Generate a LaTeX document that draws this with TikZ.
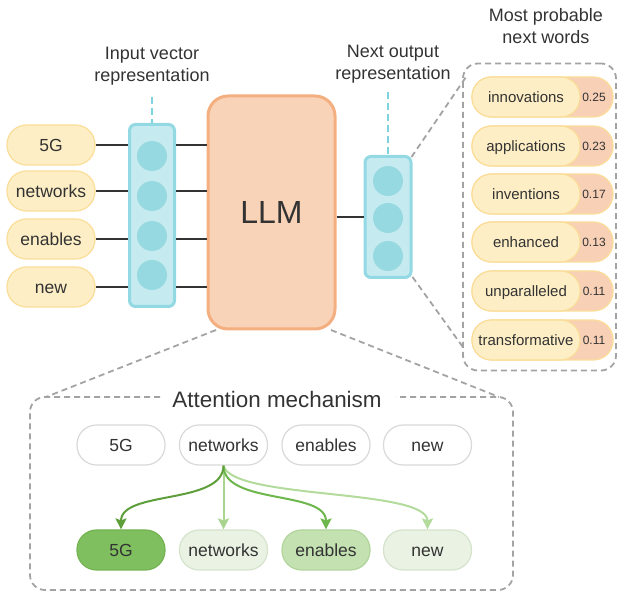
\documentclass[tikz,border=0pt]{standalone}
\usepackage{fontspec}
\setmainfont{Liberation Sans}
\usetikzlibrary{arrows.meta}
\definecolor{txtc}{HTML}{333333}
\definecolor{yelfill}{HTML}{FDEEC5}
\definecolor{yelline}{HTML}{FADD98}
\definecolor{orfill}{HTML}{F8D0B6}
\definecolor{llmfill}{HTML}{F9D3B8}
\definecolor{llmline}{HTML}{F4AF80}
\definecolor{cyline}{HTML}{93D9E4}
\definecolor{cyfill}{HTML}{C5EBF1}
\definecolor{cycirc}{HTML}{97D9E1}
\definecolor{cydash}{HTML}{7FD3DE}
\definecolor{gdash}{HTML}{A3A3A3}
\definecolor{wline}{HTML}{D9D9D9}
\definecolor{gA}{HTML}{80BF5F}
\definecolor{gAl}{HTML}{74B352}
\definecolor{gC}{HTML}{C3E1B1}
\definecolor{gCl}{HTML}{B0D49A}
\definecolor{gL}{HTML}{EAF3E3}
\definecolor{gLl}{HTML}{D5E3CC}
\definecolor{arA}{HTML}{5E9F3C}
\definecolor{arC}{HTML}{6DB74C}
\definecolor{arL}{HTML}{A9D590}
\definecolor{arN}{HTML}{B2DB9C}
\begin{document}
\begin{tikzpicture}[x=1pt,y=-1pt,
  txt/.style={text=txtc,font=\fontsize{17.5}{21}\selectfont,text height=12.5pt,text depth=0pt},
  lbl/.style={text=txtc,font=\fontsize{18}{22}\selectfont,align=center},
  pill/.style={txt,rectangle,rounded corners=19.5pt,minimum width=88pt,minimum height=40pt,line width=1.2pt,inner sep=0pt},
  inpill/.style={pill,fill=yelfill,draw=yelline},
  wpill/.style={pill,fill=white,draw=wline},
  vbox/.style={rectangle,rounded corners=6pt,fill=cyfill,draw=cyline,line width=3pt,inner sep=0pt},
  vcirc/.style={circle,fill=cycirc,minimum size=30pt,inner sep=0pt},
  conn/.style={draw=txtc,line width=1.2pt},
  gdashed/.style={draw=gdash,line width=1.8pt,dash pattern=on 6pt off 4pt},
  cdashed/.style={draw=cydash,line width=2pt,dash pattern=on 7pt off 4pt},
  att/.style={line width=2pt},
]
\useasboundingbox (0,0) rectangle (619,593);

% labels
\node[lbl] (linput) at (152,66) {Input vector\\representation};
\node[lbl] (lnext) at (393,64) {Next output\\representation};
\node[lbl] (lmost) at (546,26) {Most probable\\next words};

% input pills
\node[inpill] (w1) at (51,145) {5G};
\node[inpill] (w2) at (51,191) {networks};
\node[inpill] (w3) at (51,239) {enables};
\node[inpill] (w4) at (51,287) {new};

% input vector
\node[vbox,minimum width=45pt,minimum height=182pt] (vin) at (152,215.5) {};
\node[vcirc] (c1) at (152,156) {};
\node[vcirc] (c2) at (152,196) {};
\node[vcirc] (c3) at (152,236) {};
\node[vcirc] (c4) at (152,275) {};
\coordinate (vintop) at (152,97);
\draw[cdashed] (vintop) -- (vin.north);

% LLM
\node[rectangle,rounded corners=20pt,fill=llmfill,draw=llmline,line width=3pt,minimum width=127pt,minimum height=233pt,text=txtc,font=\fontsize{32}{36}\selectfont] (llm) at (271.5,212.5) {LLM};

% connectors
\foreach \w in {w1,w2,w3,w4}{
  \draw[conn] (\w.east) -- (\w.east -| vin.west);
  \draw[conn] (\w.east -| vin.east) -- (\w.east -| llm.west);
}

% output vector
\node[vbox,minimum width=46pt,minimum height=121pt] (vout) at (388,217) {};
\node[vcirc] (o1) at (388,181) {};
\node[vcirc] (o2) at (388,218) {};
\node[vcirc] (o3) at (388,256) {};
\coordinate (vouttop) at (388,92);
\draw[cdashed] (vouttop) -- (vout.north);
\draw[conn] (llm.east |- vout.west) -- (vout.west);

% probability panel
\node[gdashed,rectangle,rounded corners=15pt,minimum width=153pt,minimum height=307pt,inner sep=0pt] (panel) at (539.5,217) {};
\coordinate (pa) at (466,77);
\coordinate (pb) at (465,350);
\draw[gdashed] (vout.north east) ++(-1,2) coordinate (va) (va) -- (pa);
\draw[gdashed] (vout.south east) ++(0,-2) coordinate (vb) (vb) -- (pb);

\foreach \i/\y/\w/\p in {1/97/innovations/0.25,2/146/applications/0.23,3/194/inventions/0.17,4/242/enhanced/0.13,5/291/unparalleled/0.11,6/340/transformative/0.11}{
  \node[pill,fill=orfill,draw=yelline,minimum width=141pt] (po\i) at (542.5,\y) {};
  \node[pill,fill=yelfill,draw=yelline,minimum width=108pt,font=\fontsize{15}{18}\selectfont,text height=10.7pt] (pw\i) at (526,\y) {\w};
  \node[text=txtc,font=\fontsize{12}{14}\selectfont,text height=8.6pt,text depth=0pt,inner sep=0pt,anchor=center] (pp\i) at (594,\y) {\p};
}

% attention box
\node[text=txtc,font=\fontsize{22.4}{26}\selectfont] (atitle) at (277,399) {Attention mechanism};
\draw[gdashed,rounded corners=15pt] (160,397) -- (30,397) -- (30,590) -- (513,590) -- (513,397) -- (396,397);
\coordinate (la) at (216,330);
\coordinate (lb) at (46,397);
\coordinate (ra) at (331,330);
\coordinate (rb) at (499,397);
\draw[gdashed] (la) -- (lb);
\draw[gdashed] (ra) -- (rb);

% attention rows
\node[wpill] (a1) at (121,445) {5G};
\node[wpill] (a2) at (223.5,445) {networks};
\node[wpill] (a3) at (326,445) {enables};
\node[wpill] (a4) at (427.5,445) {new};
\node[pill,fill=gA,draw=gAl] (b1) at (121,550) {5G};
\node[pill,fill=gL,draw=gLl] (b2) at (223.5,550) {networks};
\node[pill,fill=gC,draw=gCl] (b3) at (326,550) {enables};
\node[pill,fill=gL,draw=gLl] (b4) at (427.5,550) {new};

\draw[att,draw=arN,-{Stealth[length=11pt,width=11pt,inset=2pt,color=arN]}] (a2.south) .. controls (232,500) and (427.5,488) .. (b4.north);
\draw[att,draw=arL,-{Stealth[length=11pt,width=11pt,inset=2pt,color=arL]}] (a2.south) -- (b2.north);
\draw[att,draw=arC,-{Stealth[length=11pt,width=11pt,inset=2pt,color=arC]}] (a2.south) .. controls (223.5,505) and (326,490) .. (b3.north);
\draw[att,draw=arA,-{Stealth[length=11pt,width=11pt,inset=2pt,color=arA]}] (a2.south) .. controls (223.5,505) and (121,490) .. (b1.north);
\end{tikzpicture}
\end{document}
